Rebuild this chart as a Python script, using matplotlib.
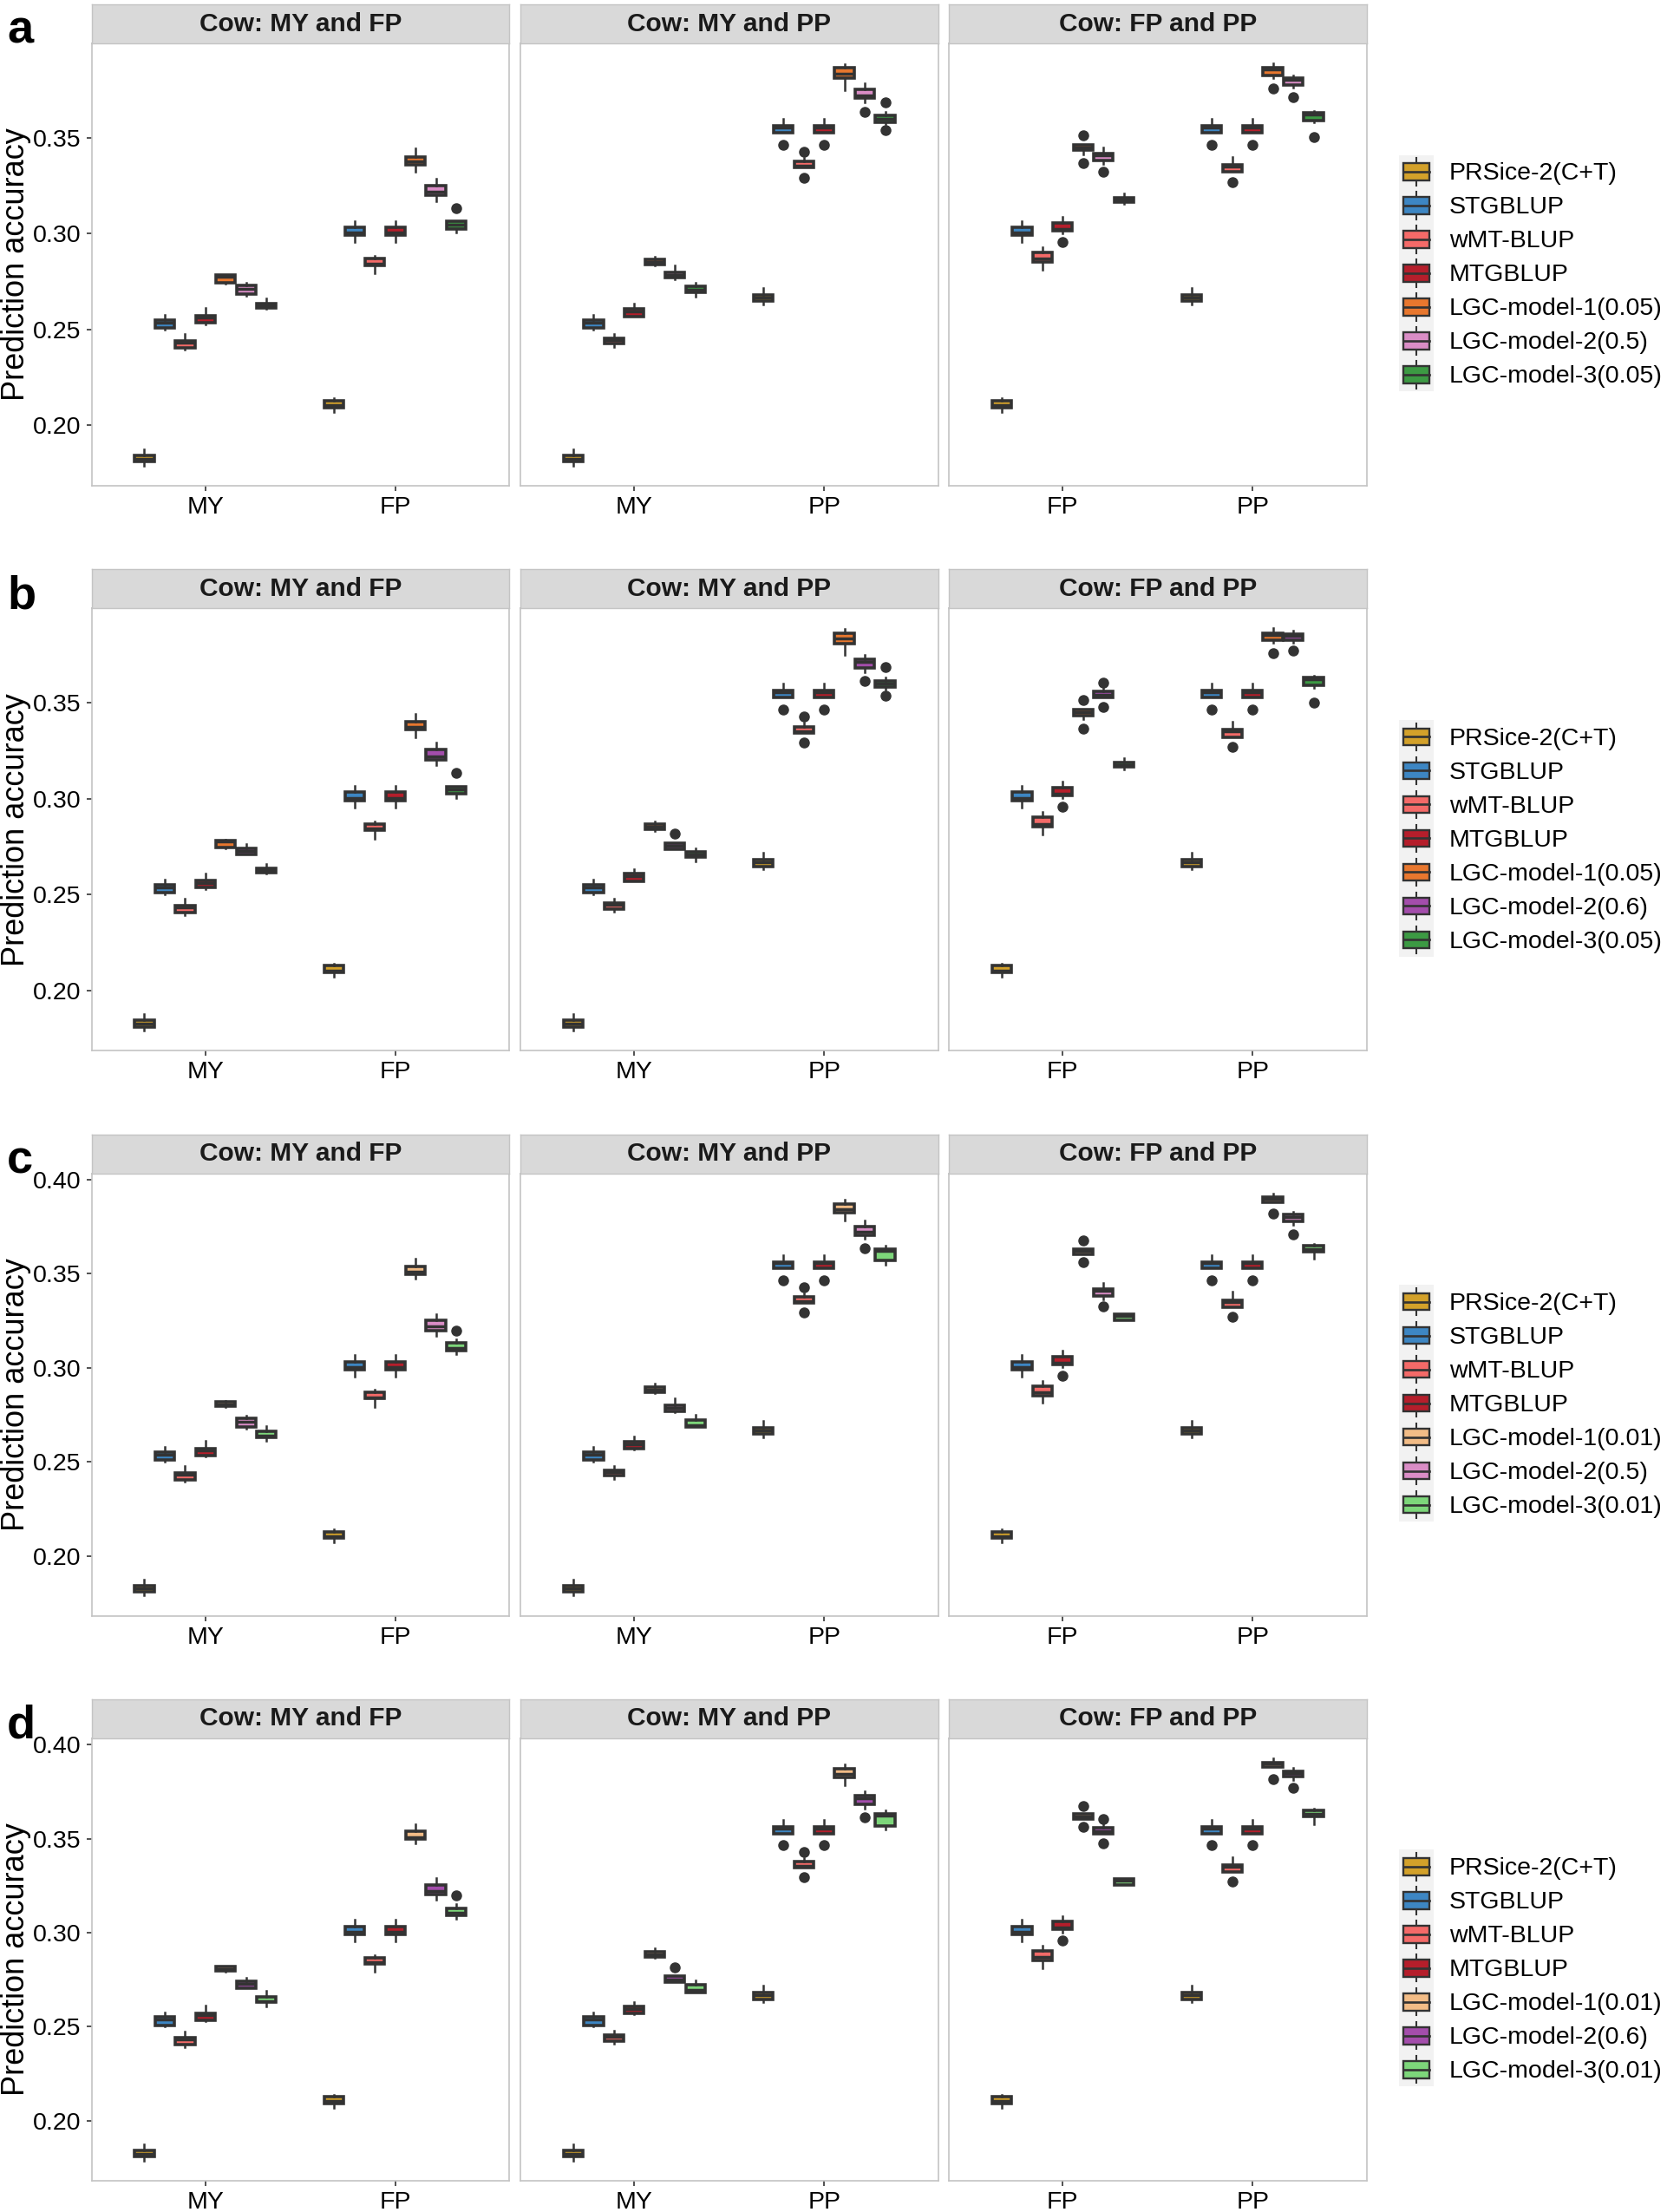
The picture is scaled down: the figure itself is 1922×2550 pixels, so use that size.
import matplotlib
matplotlib.use("Agg")
import matplotlib.pyplot as plt
from matplotlib.patches import Rectangle, Patch
from matplotlib.lines import Line2D
from matplotlib.legend_handler import HandlerBase
from matplotlib.ticker import MultipleLocator, FormatStrFormatter

plt.rcParams['font.family'] = ['Liberation Sans', 'DejaVu Sans']

panel_titles = ["Cow: MY and FP", "Cow: MY and PP", "Cow: FP and PP"]
panel_traits = [["MY", "FP"], ["MY", "PP"], ["FP", "PP"]]
row_tags = ["a", "b", "c", "d"]

# each box: (whisker low, q1, median, q3, whisker high, outliers)
# order: MY|MY-FP, FP|MY-FP, MY|MY-PP, PP|MY-PP, FP|FP-PP, PP|FP-PP
prsice = [(0.1789, 0.1809, 0.1826, 0.1843, 0.1875, []),
          (0.2071, 0.2093, 0.2104, 0.2128, 0.2140, []),
          (0.1789, 0.1809, 0.1826, 0.1843, 0.1875, []),
          (0.2632, 0.2647, 0.2666, 0.2681, 0.2718, []),
          (0.2071, 0.2093, 0.2104, 0.2128, 0.2140, []),
          (0.2632, 0.2647, 0.2666, 0.2681, 0.2718, [])]
stgblup = [(0.2500, 0.2508, 0.2537, 0.2551, 0.2578, []),
           (0.2954, 0.2991, 0.3004, 0.3033, 0.3067, []),
           (0.2500, 0.2508, 0.2537, 0.2551, 0.2578, []),
           (0.3527, 0.3527, 0.3554, 0.3562, 0.3599, [0.3464]),
           (0.2954, 0.2991, 0.3004, 0.3033, 0.3067, []),
           (0.3527, 0.3527, 0.3554, 0.3562, 0.3599, [0.3464])]
wmt_blup = [(0.2393, 0.2405, 0.2431, 0.2440, 0.2476, []),
            (0.2791, 0.2835, 0.2843, 0.2868, 0.2882, []),
            (0.2408, 0.2425, 0.2445, 0.2455, 0.2477, []),
            (0.3344, 0.3344, 0.3353, 0.3376, 0.3397, [0.3429, 0.3293]),
            (0.2812, 0.2853, 0.2869, 0.2902, 0.2929, []),
            (0.3322, 0.3322, 0.3350, 0.3360, 0.3402, [0.3270])]
mtgblup = [(0.2528, 0.2535, 0.2561, 0.2572, 0.2611, []),
           (0.2954, 0.2991, 0.3004, 0.3033, 0.3067, []),
           (0.2566, 0.2569, 0.2594, 0.2608, 0.2633, []),
           (0.3527, 0.3527, 0.3554, 0.3562, 0.3599, [0.3464]),
           (0.3002, 0.3017, 0.3026, 0.3058, 0.3089, [0.2957]),
           (0.3527, 0.3527, 0.3554, 0.3562, 0.3599, [0.3464])]
lgc1_005 = [(0.2741, 0.2744, 0.2775, 0.2783, 0.2786, []),
            (0.3321, 0.3360, 0.3375, 0.3399, 0.3443, []),
            (0.2832, 0.2839, 0.2853, 0.2867, 0.2881, []),
            (0.3750, 0.3810, 0.3836, 0.3864, 0.3885, []),
            (0.3414, 0.3435, 0.3450, 0.3463, 0.3463, [0.3513, 0.3366]),
            (0.3812, 0.3827, 0.3855, 0.3864, 0.3888, [0.3758])]
lgc2_05 = [(0.2675, 0.2685, 0.2714, 0.2729, 0.2745, []),
           (0.3170, 0.3199, 0.3220, 0.3252, 0.3286, []),
           (0.2763, 0.2770, 0.2786, 0.2800, 0.2836, []),
           (0.3686, 0.3706, 0.3720, 0.3752, 0.3784, [0.3635]),
           (0.3362, 0.3382, 0.3407, 0.3416, 0.3449, [0.3324]),
           (0.3760, 0.3777, 0.3802, 0.3814, 0.3826, [0.3710])]
lgc3_005 = [(0.2607, 0.2614, 0.2625, 0.2636, 0.2661, []),
            (0.3005, 0.3026, 0.3048, 0.3063, 0.3063, [0.3134]),
            (0.2673, 0.2693, 0.2709, 0.2724, 0.2742, []),
            (0.3570, 0.3583, 0.3599, 0.3615, 0.3634, [0.3686, 0.3539]),
            (0.3154, 0.3166, 0.3177, 0.3188, 0.3210, []),
            (0.3580, 0.3590, 0.3622, 0.3632, 0.3642, [0.3502])]
lgc1_001 = [(0.2792, 0.2795, 0.2806, 0.2819, 0.2822, []),
            (0.3474, 0.3497, 0.3508, 0.3538, 0.3577, []),
            (0.2864, 0.2871, 0.2885, 0.2898, 0.2917, []),
            (0.3783, 0.3825, 0.3843, 0.3870, 0.3894, []),
            (0.3604, 0.3604, 0.3619, 0.3632, 0.3632, [0.3675, 0.3563]),
            (0.3878, 0.3878, 0.3898, 0.3905, 0.3926, [0.3818])]
lgc2_06 = [(0.2707, 0.2707, 0.2727, 0.2740, 0.2762, []),
           (0.3173, 0.3204, 0.3220, 0.3255, 0.3291, []),
           (0.2735, 0.2735, 0.2753, 0.2768, 0.2768, [0.2817]),
           (0.3658, 0.3684, 0.3714, 0.3729, 0.3750, [0.3612]),
           (0.3527, 0.3527, 0.3541, 0.3558, 0.3582, [0.3605, 0.3476]),
           (0.3811, 0.3828, 0.3850, 0.3859, 0.3875, [0.3771])]
lgc3_001 = [(0.2610, 0.2629, 0.2638, 0.2660, 0.2691, []),
            (0.3072, 0.3091, 0.3106, 0.3131, 0.3150, [0.3197]),
            (0.2684, 0.2684, 0.2695, 0.2724, 0.2748, []),
            (0.3548, 0.3569, 0.3623, 0.3630, 0.3649, []),
            (0.3252, 0.3252, 0.3275, 0.3284, 0.3284, []),
            (0.3577, 0.3617, 0.3630, 0.3650, 0.3658, [])]

base_labels = ["PRSice-2(C+T)", "STGBLUP", "wMT-BLUP", "MTGBLUP"]
row_labels = [
    base_labels + ["LGC-model-1(0.05)", "LGC-model-2(0.5)", "LGC-model-3(0.05)"],
    base_labels + ["LGC-model-1(0.05)", "LGC-model-2(0.6)", "LGC-model-3(0.05)"],
    base_labels + ["LGC-model-1(0.01)", "LGC-model-2(0.5)", "LGC-model-3(0.01)"],
    base_labels + ["LGC-model-1(0.01)", "LGC-model-2(0.6)", "LGC-model-3(0.01)"],
]
base_data = [prsice, stgblup, wmt_blup, mtgblup]
row_data = [
    base_data + [lgc1_005, lgc2_05, lgc3_005],
    base_data + [lgc1_005, lgc2_06, lgc3_005],
    base_data + [lgc1_001, lgc2_05, lgc3_001],
    base_data + [lgc1_001, lgc2_06, lgc3_001],
]

colors = {
    "PRSice-2(C+T)": "#D3A12A",
    "STGBLUP": "#3D86C3",
    "wMT-BLUP": "#F46A68",
    "MTGBLUP": "#B51E2B",
    "LGC-model-1(0.05)": "#E8772E",
    "LGC-model-2(0.5)": "#DA8DC6",
    "LGC-model-3(0.05)": "#3C9A43",
    "LGC-model-1(0.01)": "#F2BC86",
    "LGC-model-2(0.6)": "#A34DAB",
    "LGC-model-3(0.01)": "#7DD67A",
}

DARK = "#333333"
BORDER = "#C4C4C4"
W, H = 1922, 2550


class BoxKeyHandler(HandlerBase):
    def create_artists(self, legend, orig_handle, xdescent, ydescent,
                       width, height, fontsize, trans):
        x0, y0 = -xdescent, -ydescent
        bg = Rectangle((x0, y0), width, height, facecolor="#F2F2F2",
                       edgecolor="none", transform=trans)
        wh = Line2D([x0 + width / 2] * 2, [y0 + 0.1 * height, y0 + 0.9 * height],
                    color=DARK, lw=1.5, transform=trans)
        box = Rectangle((x0 + 0.125 * width, y0 + 0.25 * height), 0.75 * width,
                        0.5 * height, facecolor=orig_handle.get_facecolor(),
                        edgecolor=DARK, lw=1.7, transform=trans)
        med = Line2D([x0 + 0.125 * width, x0 + 0.875 * width], [y0 + 0.5 * height] * 2,
                     color=DARK, lw=1.9, transform=trans)
        return [bg, wh, box, med]


fig = plt.figure(figsize=(W / 100, H / 100), dpi=100)

col_left = [105.5, 600, 1094]
panel_w, panel_h, strip_h = 481.5, 510, 45
row_pitch = 651.3
dodge = 0.75 / 7

for r in range(4):
    strip_top = 5 + r * row_pitch
    panel_top = strip_top + strip_h
    panel_bot = panel_top + panel_h

    vals = []
    for series in row_data[r]:
        for lo, q1, med, q3, hi, fl in series:
            vals += [lo, hi] + list(fl)
    span = max(vals) - min(vals)
    ylim = (min(vals) - 0.05 * span, max(vals) + 0.05 * span)

    for j in range(3):
        ax = fig.add_axes([col_left[j] / W, 1 - panel_bot / H, panel_w / W, panel_h / H])
        for t in range(2):
            stats, pos = [], []
            for i, series in enumerate(row_data[r]):
                lo, q1, med, q3, hi, fl = series[2 * j + t]
                stats.append(dict(whislo=lo, q1=q1, med=med, q3=q3, whishi=hi, fliers=fl))
                pos.append(t + 1 + (i - 3) * dodge)
            bp = ax.bxp(stats, positions=pos, widths=dodge * 0.95, patch_artist=True,
                        showcaps=False, manage_ticks=False,
                        boxprops=dict(edgecolor=DARK, linewidth=2.6),
                        whiskerprops=dict(color=DARK, linewidth=1.8),
                        medianprops=dict(color=DARK, linewidth=2.5),
                        flierprops=dict(marker='o', markerfacecolor=DARK,
                                        markeredgecolor=DARK, markersize=8,
                                        linestyle='none'))
            for patch, lab in zip(bp['boxes'], row_labels[r]):
                patch.set_facecolor(colors[lab])

        ax.set_xlim(0.4, 2.6)
        ax.set_ylim(*ylim)
        ax.set_xticks([1, 2])
        ax.set_xticklabels(panel_traits[j], fontsize=20.5, color='black')
        ax.yaxis.set_major_locator(MultipleLocator(0.05))
        ax.yaxis.set_major_formatter(FormatStrFormatter('%.2f'))
        ax.tick_params(axis='both', length=4.3, width=1.2, color=DARK, pad=4.3,
                       labelsize=20.5, labelcolor='black')
        if j > 0:
            ax.tick_params(axis='y', left=False, labelleft=False)
        for s in ax.spines.values():
            s.set_color(BORDER)
            s.set_linewidth(1.2)

        sax = fig.add_axes([col_left[j] / W, 1 - panel_top / H, panel_w / W, strip_h / H])
        sax.set_facecolor("#D9D9D9")
        sax.set_xticks([])
        sax.set_yticks([])
        for s in sax.spines.values():
            s.set_color(BORDER)
            s.set_linewidth(1.0)
        sax.text(0.5, 0.5, panel_titles[j], ha='center', va='center',
                 fontsize=21.5, fontweight='bold', color='#1A1A1A',
                 transform=sax.transAxes)

    fig.text(8 / W, 1 - panel_top / H, row_tags[r], fontsize=39,
             fontweight='bold', ha='left', va='baseline')
    fig.text(28 / W, 1 - (panel_top + panel_h / 2) / H, "Prediction accuracy",
             fontsize=26, rotation=90, rotation_mode='anchor',
             ha='center', va='baseline')

    handles = [Patch(facecolor=colors[l], label=l) for l in row_labels[r]]
    fig.legend(handles=handles, handler_map={Patch: BoxKeyHandler()},
               loc='center left', bbox_to_anchor=(1613 / W, 1 - (strip_top + 310) / H),
               frameon=False, borderpad=0, borderaxespad=0, handlelength=1.40,
               handleheight=1.73, labelspacing=0, handletextpad=0.63,
               fontsize=20.5)

fig.savefig("out.png", dpi=100)
